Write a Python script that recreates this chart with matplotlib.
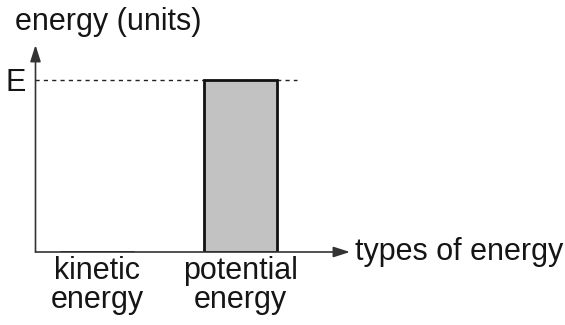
import matplotlib.pyplot as plt

# -----------------------------------
# Data
# -----------------------------------
categories = ["kinetic\nenergy", "potential\nenergy"]
values = [0.0, 1.0]          # potential energy = E
E = 1.0
tick_label_E = "E"

plt.rcParams["font.family"] = ["Liberation Sans", "DejaVu Sans"]
TXT = "#151515"
FS = 22

# -----------------------------------
# Figure / axes (pixel-matched layout)
# -----------------------------------
fig = plt.figure(figsize=(5.65, 3.25), dpi=100)
ax = fig.add_axes([35.5 / 565, 73 / 325, 314.5 / 565, 207 / 325])

x = [0, 1]
ax.set_xlim(-0.4286, 1.763)
ax.set_ylim(0, E / 0.831)
ax.axis("off")

# bar
ax.bar(x, values, width=0.509, color="#c2c2c2", edgecolor="#111111",
       linewidth=2.0, zorder=2)

# dashed level line at E
ax.plot([-0.4286, 1.394], [E, E], linestyle=(0, (3, 3)), color="#222222",
        linewidth=1.0, zorder=1)

# axes arrows
arrow = dict(arrowstyle="-|>,head_length=1.0,head_width=0.32",
             color="#333333", linewidth=1.2, shrinkA=0, shrinkB=0)
ax.annotate("", xy=(0, 1.0), xytext=(0, 0), xycoords="axes fraction",
            arrowprops=arrow)
ax.annotate("", xy=(1.0, 0), xytext=(0, 0), xycoords="axes fraction",
            arrowprops=arrow)

# text
fig.text(15 / 565, 1 - 30 / 325, "energy (units)", fontsize=FS,
         ha="left", va="baseline", color=TXT)
ax.annotate(tick_label_E, xy=(0, E), xycoords=("axes fraction", "data"),
            xytext=(-10, -11), textcoords="offset pixels",
            fontsize=FS, ha="right", va="baseline", color=TXT)
ax.annotate("types of energy", xy=(1.0, 0), xycoords="axes fraction",
            xytext=(5, -8), textcoords="offset pixels",
            fontsize=FS, ha="left", va="baseline", color=TXT)
for xi, lab in zip(x, categories):
    for k, line in enumerate(lab.split("\n")):
        ax.annotate(line, xy=(xi, 0), xytext=(0, -27 - 29 * k),
                    textcoords="offset pixels", fontsize=FS,
                    ha="center", va="baseline", color=TXT)

fig.savefig("out.png", dpi=100)
